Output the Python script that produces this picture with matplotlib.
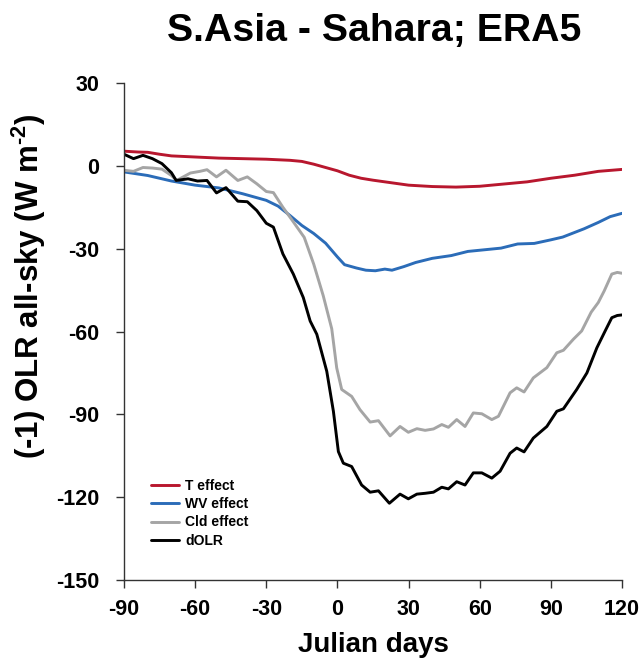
import matplotlib
matplotlib.use("Agg")
import matplotlib.pyplot as plt

plt.rcParams['font.family'] = ['Liberation Sans', 'DejaVu Sans']
plt.rcParams['font.weight'] = 'bold'
plt.rcParams['mathtext.fontset'] = 'custom'
plt.rcParams['mathtext.rm'] = 'Liberation Sans:bold'
plt.rcParams['mathtext.bf'] = 'Liberation Sans:bold'
plt.rcParams['mathtext.it'] = 'Liberation Sans:bold'
plt.rcParams['mathtext.default'] = 'bf'

title = "S.Asia - Sahara; ERA5"
xlabel = "Julian days"
ylabel = r"(-1) OLR all-sky (W m$^{\text{-2}}$)"
xticks = [-90, -60, -30, 0, 30, 60, 90, 120]
yticks = [-150, -120, -90, -60, -30, 0, 30]

t_days = [-90, -84, -80, -75, -70, -60, -50, -40, -30, -20, -15, -10, -5, 0, 5, 10, 15, 20, 25, 30,
          40, 50, 60, 70, 80, 90, 100, 110, 120]
t_vals = [5.3, 5.0, 4.9, 4.2, 3.6, 3.2, 2.8, 2.6, 2.4, 2.0, 1.6, 0.6, -0.6, -1.8, -3.4, -4.5, -5.2,
          -5.8, -6.4, -7.0, -7.5, -7.7, -7.4, -6.6, -5.8, -4.5, -3.4, -2.0, -1.3]

wv_days = [-90, -80, -70, -60, -50, -40, -30, -25, -20, -15, -10, -5, 0, 3, 8, 12, 16, 20, 23, 28,
           33, 40, 48, 55, 62, 69, 76, 83, 90, 95, 104, 110, 115, 120]
wv_vals = [-2.2, -3.5, -5.5, -7.0, -8.0, -10.1, -12.5, -14.6, -18.0, -21.6, -24.5, -28.0, -33.0,
           -35.8, -37.0, -37.8, -38.0, -37.4, -37.8, -36.5, -35.0, -33.5, -32.5, -31.0, -30.4,
           -29.8, -28.3, -28.1, -26.8, -25.8, -22.8, -20.5, -18.4, -17.2]

cld_days = [-90, -86, -82, -78, -74, -70, -67.8, -62, -58, -55, -51, -47, -42, -38, -34, -30, -27,
            -23, -19, -14, -10, -6, -2.4, -0.3, 1.8, 6, 9.5, 13.8, 17.3, 22.2, 26.4, 29.9, 33.5,
            37, 40.5, 44, 46.8, 50.3, 53.8, 57.3, 60.9, 65.1, 67.9, 72.8, 75.6, 78.7, 82.6, 88.3,
            92.5, 95.3, 99.5, 103, 107, 110, 112.5, 115.7, 118, 120]
cld_vals = [-1.6, -2.0, -0.6, -0.8, -1.2, -3.5, -5.3, -2.6, -2.0, -1.4, -4.0, -1.6, -5.3, -4.0,
            -6.5, -9.3, -9.7, -15.0, -19.8, -25.9, -35.6, -47.0, -59.0, -73.2, -81.0, -83.5,
            -88.3, -92.8, -92.3, -97.8, -94.4, -96.5, -95.2, -95.8, -95.3, -93.7, -94.7, -91.9,
            -94.4, -89.5, -89.8, -91.9, -90.7, -82.2, -80.4, -81.9, -76.8, -73.1, -67.7, -66.8,
            -62.8, -59.8, -53.0, -49.5, -45.3, -39.2, -38.6, -38.9]

dolr_days = [-90, -86, -82, -78, -74, -70, -68, -63, -59, -55, -51, -47, -42, -38, -34, -30, -27,
             -23, -18.6, -14.4, -11.5, -8.7, -4.5, -1.7, 0.4, 2.5, 6, 10.2, 13.8, 17.3, 21.9,
             26.4, 29.9, 33.5, 37, 40.5, 44, 46.8, 50.3, 53.8, 57.3, 60.9, 65.1, 68.6, 72.8,
             75.6, 78.7, 82.6, 88.3, 92.5, 95.3, 100.9, 105.2, 109.4, 112.9, 115.7, 118, 120]
dolr_vals = [4.2, 2.6, 3.8, 2.6, 0.8, -2.5, -5.3, -4.7, -5.5, -5.3, -9.8, -7.9, -12.8, -13.0,
             -16.2, -20.8, -22.2, -31.9, -39.2, -47.7, -56.2, -61.0, -74.4, -88.9, -103.5, -107.7,
             -108.9, -115.6, -118.2, -117.7, -122.2, -118.9, -120.6, -118.9, -118.6, -118.2,
             -116.4, -117.0, -114.4, -115.6, -111.2, -111.2, -113.1, -110.6, -104.1, -102.2,
             -103.6, -98.6, -94.4, -88.9, -88.0, -81.0, -75.0, -65.9, -59.8, -55.0, -54.2, -54.0]

series = [
    ("T effect", t_days, t_vals, "#B8172E"),
    ("WV effect", wv_days, wv_vals, "#2B6CB8"),
    ("Cld effect", cld_days, cld_vals, "#A5A5A5"),
    ("dOLR", dolr_days, dolr_vals, "#000000"),
]

fig = plt.figure(figsize=(6.42, 6.63), dpi=100)
ax = fig.add_axes([124 / 642, 1 - 580 / 663, 498 / 642, 497 / 663])

for name, d, v, c in series:
    ax.plot(d, v, color=c, lw=2.1, label=name, solid_joinstyle='round', solid_capstyle='round')

ax.set_xlim(-90, 120)
ax.set_ylim(-150, 30)
ax.set_xticks(xticks)
ax.set_yticks(yticks)
ax.set_xticklabels([str(x) for x in xticks], fontsize=15.5, fontweight='bold')
ax.set_yticklabels([str(y) for y in yticks], fontsize=15.5, fontweight='bold')
ax.tick_params(axis='both', direction='out', length=6, width=1.0, color='#333333')
ax.tick_params(axis='y', pad=12)
ax.tick_params(axis='x', pad=8)
for s in ['top', 'right']:
    ax.spines[s].set_visible(False)
for s in ['left', 'bottom']:
    ax.spines[s].set_linewidth(1.0)
    ax.spines[s].set_color('#333333')

ax.set_xlabel(xlabel, fontsize=20, fontweight='bold', labelpad=8)
ax.set_ylabel(ylabel, fontsize=22.5, fontweight='bold')
ax.yaxis.set_label_coords(-0.153, 0.592)
fig.text(374 / 642, 1 - 31 / 663, title, fontsize=28.3, fontweight='bold', ha='center', va='center')

leg = ax.legend(loc='upper left', bbox_to_anchor=(0.054, 0.203), frameon=False,
                prop={'size': 10, 'weight': 'bold'}, handlelength=2.0, handletextpad=0.45,
                labelspacing=0.3, borderpad=0, borderaxespad=0)

fig.savefig("out.png", dpi=100)
